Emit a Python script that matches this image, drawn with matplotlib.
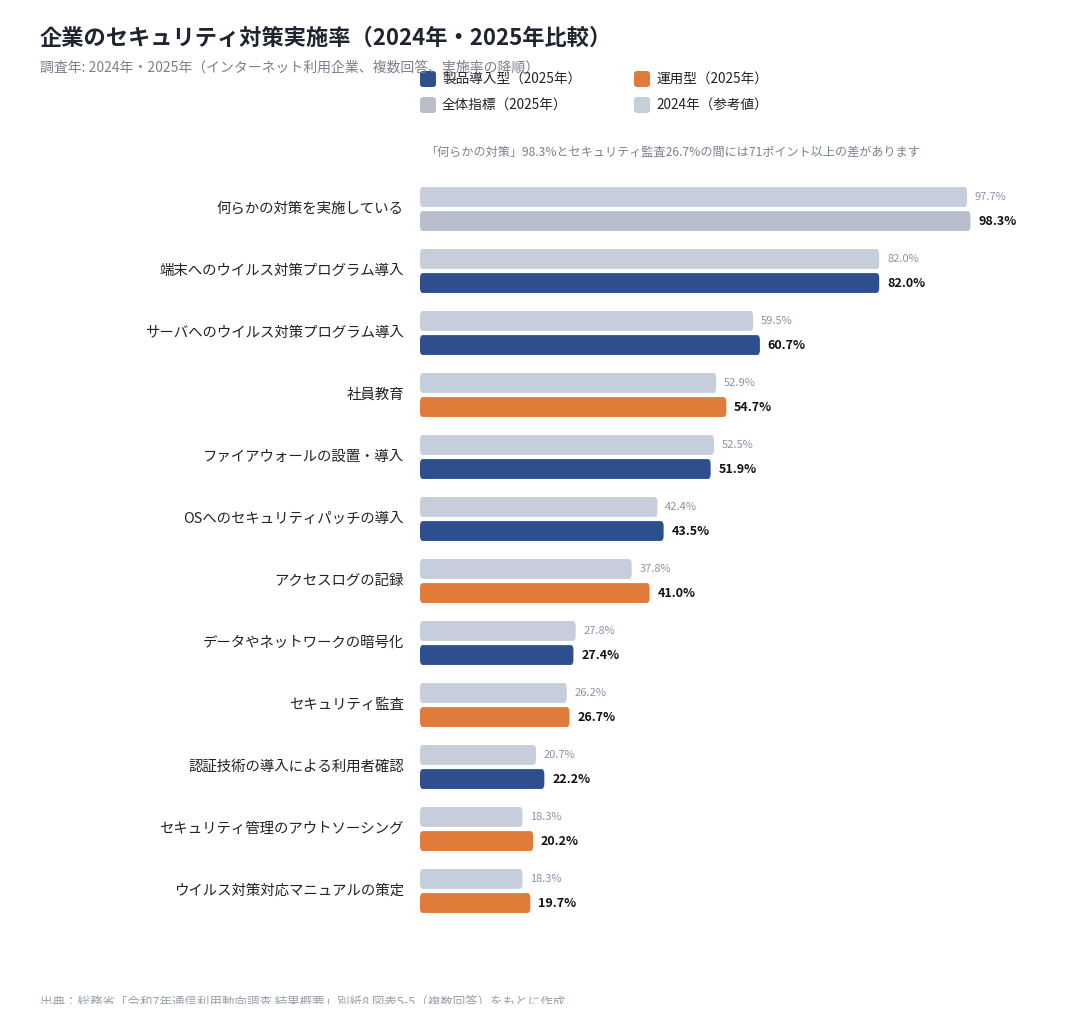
import matplotlib
matplotlib.use('Agg')
import matplotlib.pyplot as plt
from matplotlib.patches import FancyBboxPatch, Rectangle

plt.rcParams['font.family'] = ['Noto Sans CJK JP', 'DejaVu Sans']

# Data (2025 descending order)
categories = [
    '何らかの対策を実施している',
    '端末へのウイルス対策プログラム導入',
    'サーバへのウイルス対策プログラム導入',
    '社員教育',
    'ファイアウォールの設置・導入',
    'OSへのセキュリティパッチの導入',
    'アクセスログの記録',
    'データやネットワークの暗号化',
    'セキュリティ監査',
    '認証技術の導入による利用者確認',
    'セキュリティ管理のアウトソーシング',
    'ウイルス対策対応マニュアルの策定',
]
values_2024 = [97.7, 82.0, 59.5, 52.9, 52.5, 42.4, 37.8, 27.8, 26.2, 20.7, 18.3, 18.3]
values_2025 = [98.3, 82.0, 60.7, 54.7, 51.9, 43.5, 41.0, 27.4, 26.7, 22.2, 20.2, 19.7]
types_2025 = ['total', 'product', 'product', 'ops', 'product', 'product',
              'ops', 'product', 'ops', 'product', 'ops', 'ops']

colors = {
    'product': '#2D4F8E',
    'ops': '#E07B3A',
    'total': '#B8BECB',
    '2024': '#C7CEDB',
}
legend_items = [
    ('製品導入型（2025年）', colors['product']),
    ('運用型（2025年）', colors['ops']),
    ('全体指標（2025年）', colors['total']),
    ('2024年（参考値）', colors['2024']),
]

W, H = 1080, 1030
fig = plt.figure(figsize=(W / 100, H / 100), dpi=100)
fig.patch.set_facecolor('white')

# axes: x 0..100 -> px 420..980, groups from y 178 to 922
ax = fig.add_axes([420 / W, (H - 922) / H, 560 / W, 744 / H])
ax.set_xlim(0, 100)
ax.set_ylim(len(categories) - 0.5, -0.5)
ax.axis('off')

bar_h = 0.32
off = 0.194


def rbar(y, v, color):
    p = FancyBboxPatch((0, y - bar_h / 2), v, bar_h,
                       boxstyle='round,pad=0,rounding_size=0.5',
                       mutation_aspect=0.16,
                       facecolor=color, edgecolor='none')
    ax.add_patch(p)


for i, cat in enumerate(categories):
    v24 = values_2024[i]
    v25 = values_2025[i]
    rbar(i - off, v24, colors['2024'])
    rbar(i + off, v25, colors[types_2025[i]])
    ax.text(v24 + 1.4, i - off, f'{v24:.1f}%', va='center', ha='left',
            fontsize=8, color='#8A93A3')
    ax.text(v25 + 1.4, i + off, f'{v25:.1f}%', va='center', ha='left',
            fontsize=9, color='#111111', fontweight='bold')
    ax.text(-2.9, i, cat, va='center', ha='right', fontsize=10.4, color='#222222')

# title & subtitle
fig.text(40 / W, 1 - 38 / H, '企業のセキュリティ対策実施率（2024年・2025年比較）',
         fontsize=16, fontweight='bold', color='#1F2430', va='center', ha='left')
fig.text(40 / W, 1 - 67 / H, '調査年: 2024年・2025年（インターネット利用企業、複数回答、実施率の降順）',
         fontsize=10, color='#7A808C', va='center', ha='left')

# legend
legend_pos = [(420, 79), (634, 79), (420, 105), (634, 105)]
for (label, col), (lx, ly) in zip(legend_items, legend_pos):
    fig.patches.append(FancyBboxPatch(((lx) / W, 1 - (ly + 8) / H), 16 / W, 16 / H,
                                      boxstyle='round,pad=0,rounding_size=0.003',
                                      transform=fig.transFigure,
                                      facecolor=col, edgecolor='none', zorder=3))
    fig.text((lx + 22) / W, 1 - ly / H, label, fontsize=9.8, color='#222222',
             va='center', ha='left', zorder=4)

# annotation
fig.text(425 / W, 1 - 152 / H,
         '「何らかの対策」98.3%とセキュリティ監査26.7%の間には71ポイント以上の差があります',
         fontsize=8.7, color='#7A808C', va='center', ha='left')

# source (clipped at bottom in the original)
fig.text(40 / W, 1 - 996 / H,
         '出典：総務省「令和7年通信利用動向調査 結果概要」別紙8 図表5-5（複数回答）をもとに作成',
         fontsize=9, color='#9AA0AA', va='top', ha='left', zorder=1)
fig.patches.append(Rectangle((0, 0), 1, 1 - 1004 / H, transform=fig.transFigure,
                             facecolor='white', edgecolor='none', zorder=5))

fig.savefig('out.png', dpi=100, facecolor='white')
